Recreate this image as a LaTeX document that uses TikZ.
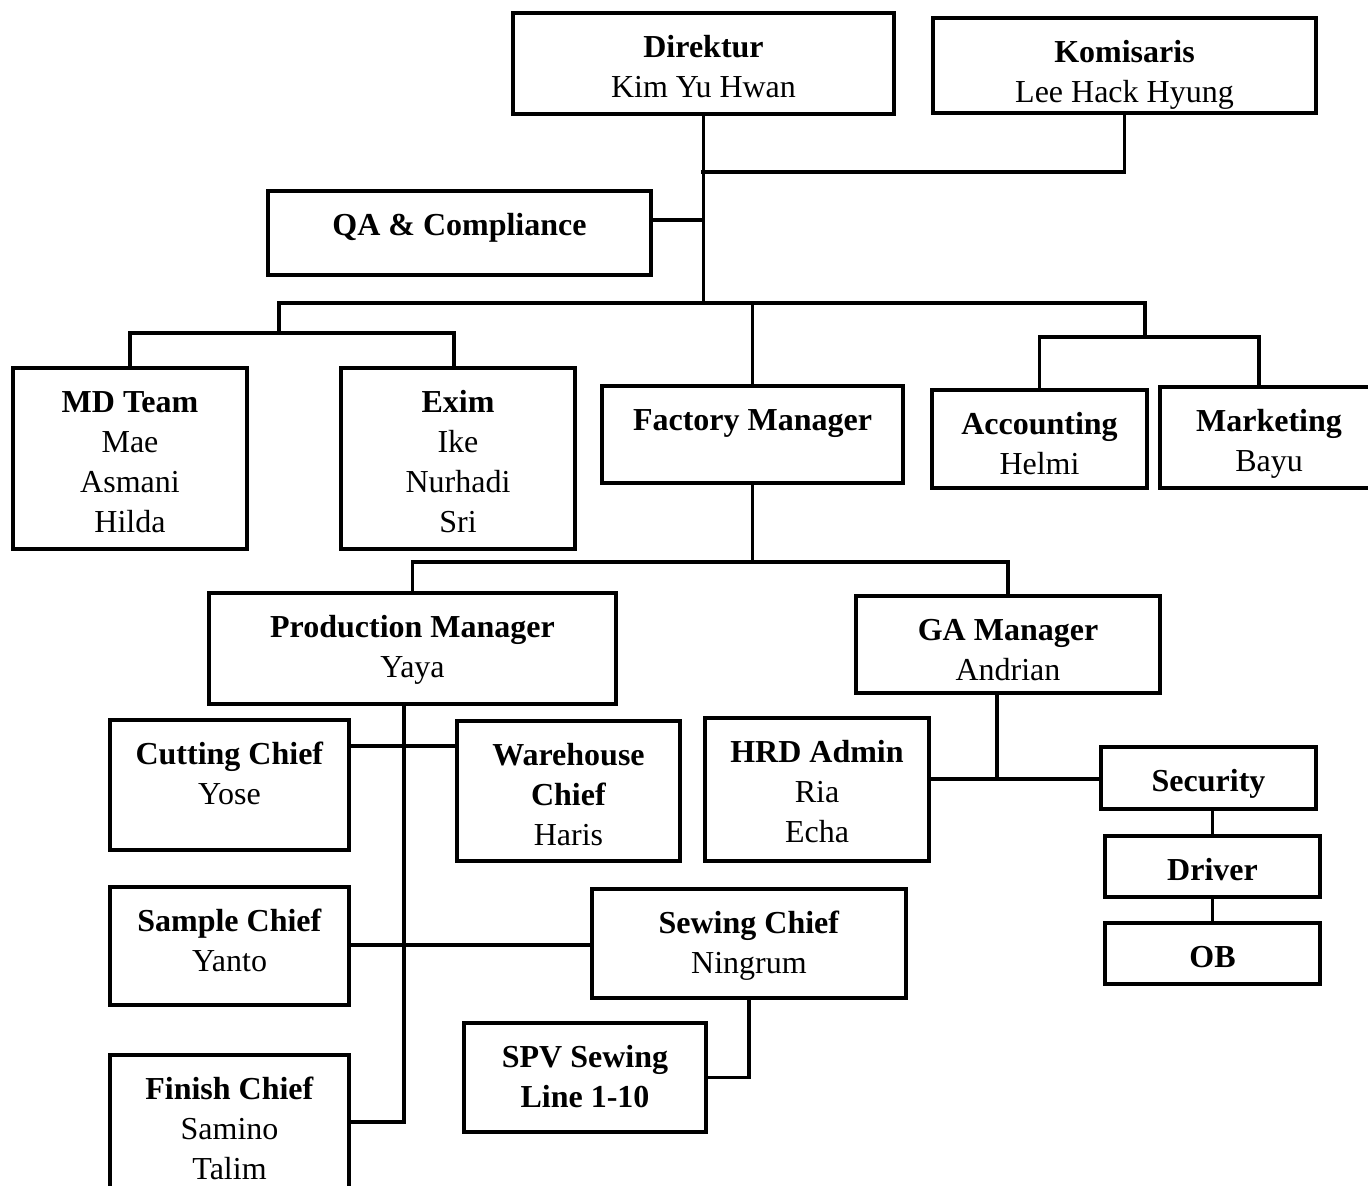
\documentclass[tikz,border=0pt]{standalone}
\usepackage{fontspec}
\setmainfont{Liberation Serif}
\newcommand{\bx}[3]{\parbox[c][#2][t]{#1}{\centering\rule{0pt}{22pt}#3\par}}
\begin{document}
\begin{tikzpicture}[x=0.5pt,y=-0.5pt,
  orgbox/.style={draw, line width=2pt, inner sep=0pt, anchor=north west,
    font=\fontsize{16}{20}\selectfont},
  conn/.style={line width=1.6pt, line cap=rect}]
\useasboundingbox (0,0) rectangle (1368,1185);
% boxes
\node[orgbox] (dir) at (511,11) {\bx{190.5pt}{50.5pt}{\textbf{Direktur}\\Kim Yu Hwan}};
\node[orgbox] (kom) at (931,16) {\bx{191.5pt}{47.5pt}{\textbf{Komisaris}\\Lee Hack Hyung}};
\node[orgbox] (qa) at (266,189) {\bx{191.5pt}{42pt}{\textbf{QA \& Compliance}}};
\node[orgbox] (md) at (11,366) {\bx{117pt}{90.5pt}{\textbf{MD Team}\\Mae\\Asmani\\Hilda}};
\node[orgbox] (ex) at (339,366) {\bx{117pt}{90.5pt}{\textbf{Exim}\\Ike\\Nurhadi\\Sri}};
\node[orgbox] (fm) at (600,384) {\bx{150.5pt}{48.5pt}{\textbf{Factory Manager}}};
\node[orgbox] (acc) at (930,388) {\bx{107.5pt}{49pt}{\textbf{Accounting}\\Helmi}};
\node[orgbox] (mk) at (1158,385) {\bx{109pt}{50.5pt}{\textbf{Marketing}\\Bayu}};
\node[orgbox] (pm) at (207,591) {\bx{203.5pt}{55.5pt}{\textbf{Production Manager}\\Yaya}};
\node[orgbox] (ga) at (854,594) {\bx{152pt}{48.5pt}{\textbf{GA Manager}\\Andrian}};
\node[orgbox] (cut) at (108,718) {\bx{119.5pt}{65pt}{\textbf{Cutting Chief}\\Yose}};
\node[orgbox] (wh) at (455,719) {\bx{111.5pt}{70pt}{\textbf{Warehouse}\\\textbf{Chief}\\Haris}};
\node[orgbox] (hrd) at (703,716) {\bx{112pt}{71.5pt}{\textbf{HRD Admin}\\Ria\\Echa}};
\node[orgbox] (sec) at (1099,745) {\bx{107.5pt}{31pt}{\textbf{Security}}};
\node[orgbox] (drv) at (1103,834) {\bx{107.5pt}{30.5pt}{\textbf{Driver}}};
\node[orgbox] (ob) at (1103,921) {\bx{107.5pt}{30.5pt}{\textbf{OB}}};
\node[orgbox] (sam) at (108,885) {\bx{119.5pt}{59pt}{\textbf{Sample Chief}\\Yanto}};
\node[orgbox] (sew) at (590,887) {\bx{157pt}{54.5pt}{\textbf{Sewing Chief}\\Ningrum}};
\node[orgbox] (spv) at (462,1021) {\bx{121pt}{54.5pt}{\textbf{SPV Sewing}\\\textbf{Line 1-10}}};
\node[orgbox] (fin) at (108,1053) {\bx{119.5pt}{80.5pt}{\textbf{Finish Chief}\\Samino\\Talim}};
% junction coordinates
\coordinate (j1) at (703,172);
\coordinate (j2) at (703,220);
\coordinate (bL) at (279,303);
\coordinate (bR) at (1145,303);
\coordinate (bL2) at (279,333);
\coordinate (bR2) at (1145,337);
\coordinate (ext) at (454,366);
\coordinate (mkt) at (1259,385);
\coordinate (fy) at (0,562);
\coordinate (pv) at (404,1122);
\coordinate (c1) at (404,746);
\coordinate (c2) at (404,945);
\coordinate (gj) at (997,779);
\coordinate (fj) at (fm.south |- fy);
% connectors
\draw[conn] (dir.south) -- (dir.south |- bL);
\draw[conn] (kom.south) |- (j1);
\draw[conn] (qa.east |- j2) -- (j2);
\draw[conn] (bL) -- (bR);
\draw[conn] (bL) -- (bL2);
\draw[conn] (md.north) |- (bL2) -| (ext);
\draw[conn] (fm.north |- bL) -- (fm.north);
\draw[conn] (bR) -- (bR2);
\draw[conn] (acc.north) |- (bR2) -| (mkt);
\draw[conn] (fm.south) -- (fj);
\draw[conn] (pm.north) |- (fj) -| (ga.north);
\draw[conn] (pv |- pm.south) -- (pv);
\draw[conn] (pv) -- (pv -| fin.east);
\draw[conn] (c1 -| cut.east) -- (c1) -- (c1 -| wh.west);
\draw[conn] (c2 -| sam.east) -- (c2 -| sew.west);
\draw[conn] (sew.south) |- (spv.east);
\draw[conn] (gj |- ga.south) -- (gj);
\draw[conn] (gj -| hrd.east) -- (gj -| sec.west);
\draw[conn] (drv.north |- sec.south) -- (drv.north);
\draw[conn] (drv.south) -- (ob.north);
\end{tikzpicture}
\end{document}
